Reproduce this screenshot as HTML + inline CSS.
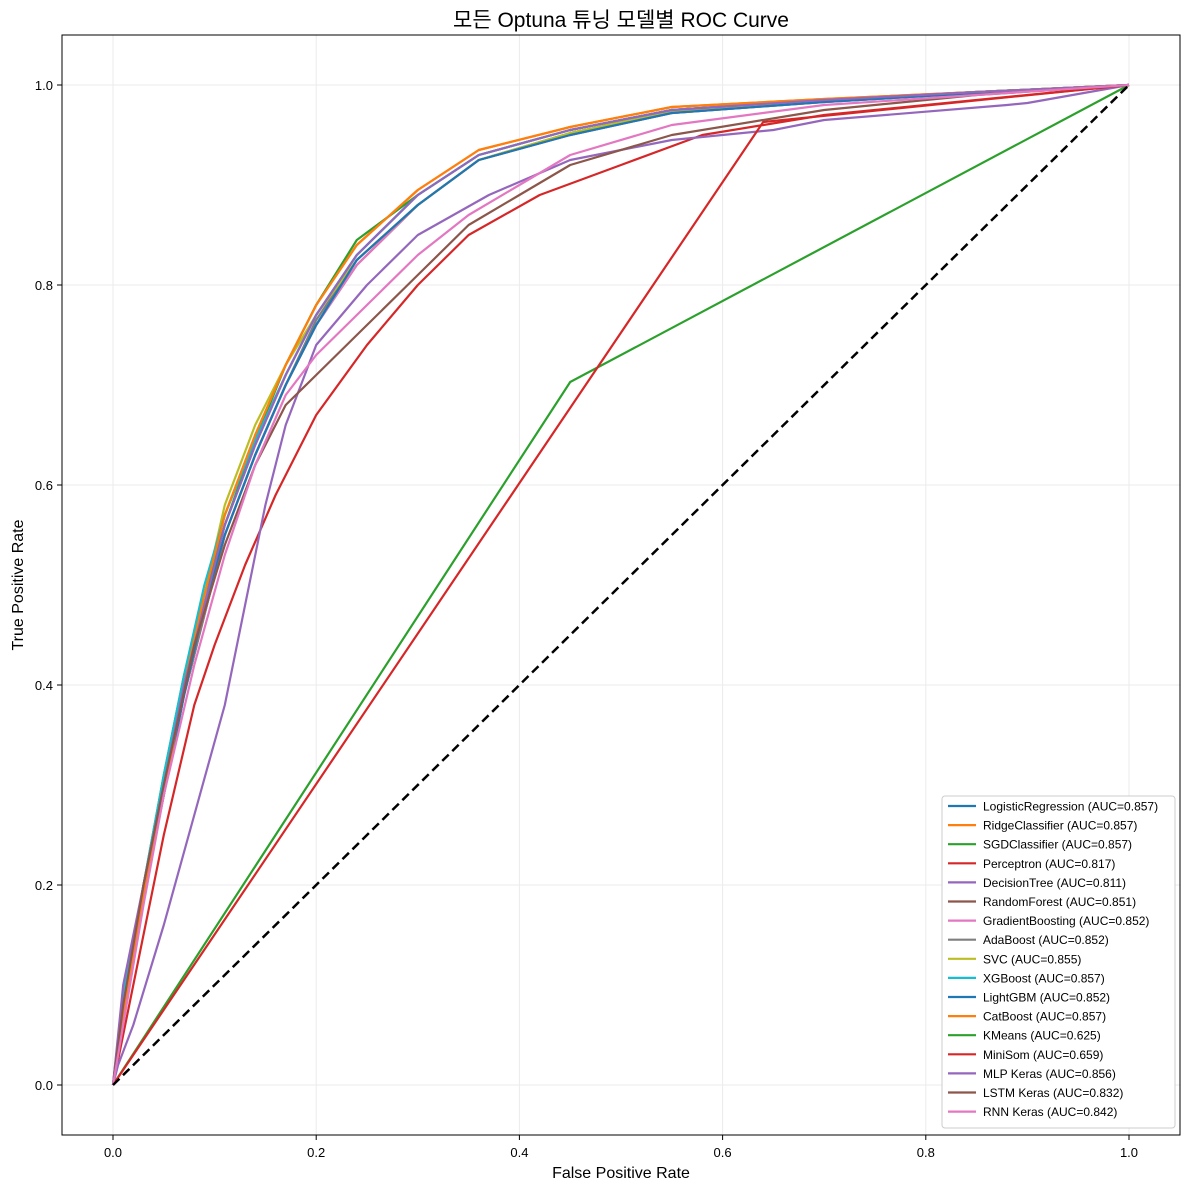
<!DOCTYPE html>
<html><head><meta charset="utf-8"><style>
html,body{margin:0;padding:0;background:#fff}
svg{display:block;font-family:"Liberation Sans","Noto Sans CJK KR",sans-serif}
</style></head><body>
<svg id="c" width="1189" height="1189" viewBox="0 0 1189 1189">
<rect x="0" y="0" width="1189" height="1189" fill="#fff"/>
<text x="621" y="27" font-size="21" text-anchor="middle" fill="#000">모든 Optuna 튜닝 모델별 ROC Curve</text>
<text x="621" y="1178" font-size="16" text-anchor="middle">False Positive Rate</text>
<text x="23" y="585" font-size="16" text-anchor="middle" transform="rotate(-90 23 585)">True Positive Rate</text>
<g id="grid"></g><g id="ticks"></g><g id="lines"></g>
<rect x="62" y="35" width="1118" height="1100" fill="none" stroke="#000" stroke-width="1"/>
<g id="legend"></g>
</svg>
<script>
const names=["LogisticRegression (AUC=0.857)","RidgeClassifier (AUC=0.857)","SGDClassifier (AUC=0.857)","Perceptron (AUC=0.817)","DecisionTree (AUC=0.811)","RandomForest (AUC=0.851)","GradientBoosting (AUC=0.852)","AdaBoost (AUC=0.852)","SVC (AUC=0.855)","XGBoost (AUC=0.857)","LightGBM (AUC=0.852)","CatBoost (AUC=0.857)","KMeans (AUC=0.625)","MiniSom (AUC=0.659)","MLP Keras (AUC=0.856)","LSTM Keras (AUC=0.832)","RNN Keras (AUC=0.842)"];
const colors=["#1f77b4","#ff7f0e","#2ca02c","#d62728","#9467bd","#8c564b","#e377c2","#7f7f7f","#bcbd22","#17becf","#1f77b4","#ff7f0e","#2ca02c","#d62728","#9467bd","#8c564b","#e377c2"];
const fprGood=[0,0.01,0.03,0.05,0.07,0.09,0.11,0.14,0.17,0.2,0.24,0.3,0.36,0.45,0.55,0.7,0.85,1];
const tprLR=[0,0.08,0.2,0.3,0.4,0.48,0.56,0.64,0.71,0.77,0.83,0.89,0.93,0.955,0.975,0.985,0.993,1];
const tprRidge=[0,0.07,0.19,0.29,0.4,0.49,0.57,0.65,0.72,0.78,0.84,0.895,0.935,0.958,0.978,0.986,0.993,1];
const tprSGD=[0,0.08,0.2,0.31,0.41,0.49,0.56,0.645,0.72,0.78,0.845,0.89,0.93,0.955,0.975,0.985,0.993,1];
const fprPer=[0,0.02,0.05,0.08,0.1,0.13,0.16,0.2,0.25,0.3,0.35,0.42,0.5,0.58,0.7,0.85,1];
const tprPer=[0,0.1,0.25,0.38,0.44,0.52,0.59,0.67,0.74,0.8,0.85,0.89,0.92,0.95,0.97,0.985,1];
const fprDT=[0,0.005,0.02,0.05,0.08,0.11,0.13,0.15,0.17,0.2,0.25,0.3,0.37,0.45,0.55,0.65,0.7,0.88,0.9,1];
const tprDT=[0,0.02,0.06,0.16,0.27,0.38,0.48,0.58,0.66,0.74,0.8,0.85,0.89,0.925,0.945,0.955,0.965,0.98,0.982,1];
const tprRF=[0,0.09,0.2,0.3,0.39,0.47,0.55,0.63,0.7,0.76,0.82,0.88,0.925,0.95,0.972,0.983,0.992,1];
const tprGB=[0,0.08,0.19,0.29,0.39,0.47,0.55,0.63,0.7,0.76,0.82,0.88,0.925,0.95,0.972,0.983,0.992,1];
const tprAda=[0,0.08,0.19,0.29,0.39,0.47,0.55,0.63,0.7,0.765,0.825,0.88,0.925,0.952,0.973,0.984,0.992,1];
const tprSVC=[0,0.08,0.2,0.3,0.4,0.49,0.58,0.66,0.72,0.77,0.825,0.88,0.925,0.952,0.974,0.985,0.993,1];
const tprXGB=[0,0.09,0.2,0.31,0.41,0.5,0.57,0.645,0.71,0.77,0.83,0.89,0.93,0.955,0.975,0.985,0.993,1];
const tprLGB=[0,0.08,0.19,0.29,0.39,0.48,0.55,0.63,0.7,0.76,0.825,0.88,0.925,0.95,0.972,0.983,0.992,1];
const tprCat=[0,0.07,0.19,0.29,0.4,0.49,0.57,0.65,0.72,0.78,0.84,0.895,0.935,0.958,0.978,0.986,0.993,1];
const fprKM=[0,0.45,1], tprKM=[0,0.703,1];
const fprMS=[0,0.64,1], tprMS=[0,0.963,1];
const tprMLP=[0,0.1,0.2,0.3,0.4,0.48,0.56,0.64,0.71,0.77,0.83,0.89,0.93,0.955,0.975,0.985,0.993,1];
const fprLSTM=[0,0.01,0.03,0.05,0.08,0.11,0.14,0.17,0.2,0.25,0.3,0.35,0.4,0.45,0.55,0.7,0.85,1];
const tprLSTM=[0,0.08,0.2,0.3,0.44,0.54,0.62,0.68,0.71,0.76,0.81,0.86,0.89,0.92,0.95,0.975,0.99,1];
const tprRNN=[0,0.06,0.18,0.29,0.42,0.53,0.62,0.69,0.73,0.78,0.83,0.87,0.9,0.93,0.96,0.98,0.99,1];
const series=[[fprGood,tprLR],[fprGood,tprRidge],[fprGood,tprSGD],[fprPer,tprPer],[fprDT,tprDT],[fprGood,tprRF],[fprGood,tprGB],[fprGood,tprAda],[fprGood,tprSVC],[fprGood,tprXGB],[fprGood,tprLGB],[fprGood,tprCat],[fprKM,tprKM],[fprMS,tprMS],[fprGood,tprMLP],[fprLSTM,tprLSTM],[fprLSTM,tprRNN]];
const ticks=[0,0.2,0.4,0.6,0.8,1.0];
const tickLabels=["0.0","0.2","0.4","0.6","0.8","1.0"];
const NS="http://www.w3.org/2000/svg";
const X=v=>113+v*1016, Y=v=>1085-v*1000;
function mk(t,a,p){const e=document.createElementNS(NS,t);for(const k in a)e.setAttribute(k,a[k]);p.appendChild(e);return e;}
const G=document.getElementById('grid'),T=document.getElementById('ticks'),L=document.getElementById('lines'),LG=document.getElementById('legend');
ticks.forEach((t,i)=>{
 let g=mk('line',{x1:X(t),x2:X(t),y1:35,y2:1135,stroke:'#ebebeb','stroke-width':1},G);
 
 
 g=mk('line',{x1:62,x2:1180,y1:Y(t),y2:Y(t),stroke:'#ebebeb','stroke-width':1},G);
 
 
 mk('line',{x1:X(t),x2:X(t),y1:1135,y2:1140,stroke:'#000'},T);
 mk('line',{x1:57,x2:62,y1:Y(t),y2:Y(t),stroke:'#000'},T);
 let tx=mk('text',{x:X(t),y:1157,'font-size':13,'text-anchor':'middle'},T);tx.textContent=tickLabels[i];
 
 
 tx=mk('text',{x:53,y:Y(t)+5,'font-size':13,'text-anchor':'end'},T);tx.textContent=tickLabels[i];
 
 
});
series.forEach((s,i)=>{
 const d=s[0].map((x,j)=>(j?'L':'M')+X(x).toFixed(1)+','+Y(s[1][j]).toFixed(1)).join('');
 const p=mk('path',{d:d,fill:'none',stroke:colors[i],'stroke-width':2.2,'stroke-linejoin':'round'},L);
 
 
});
const dg=mk('line',{x1:X(0),y1:Y(0),x2:X(1),y2:Y(1),stroke:'#000','stroke-width':2.5,'stroke-dasharray':'9,5'},L);


const lb=mk('rect',{x:942,y:796,width:233,height:332,fill:'#fff',stroke:'#ccc',rx:3},LG);


names.forEach((n,i)=>{
 const y=806+i*19.1;
 const g=mk('g',{},LG);
 
 
 mk('line',{x1:948,x2:976,y1:y,y2:y,stroke:colors[i],'stroke-width':2.2},g);
 const t=mk('text',{x:983,y:y+4.5,'font-size':12},g);t.textContent=n;
});
</script>
</body></html>
